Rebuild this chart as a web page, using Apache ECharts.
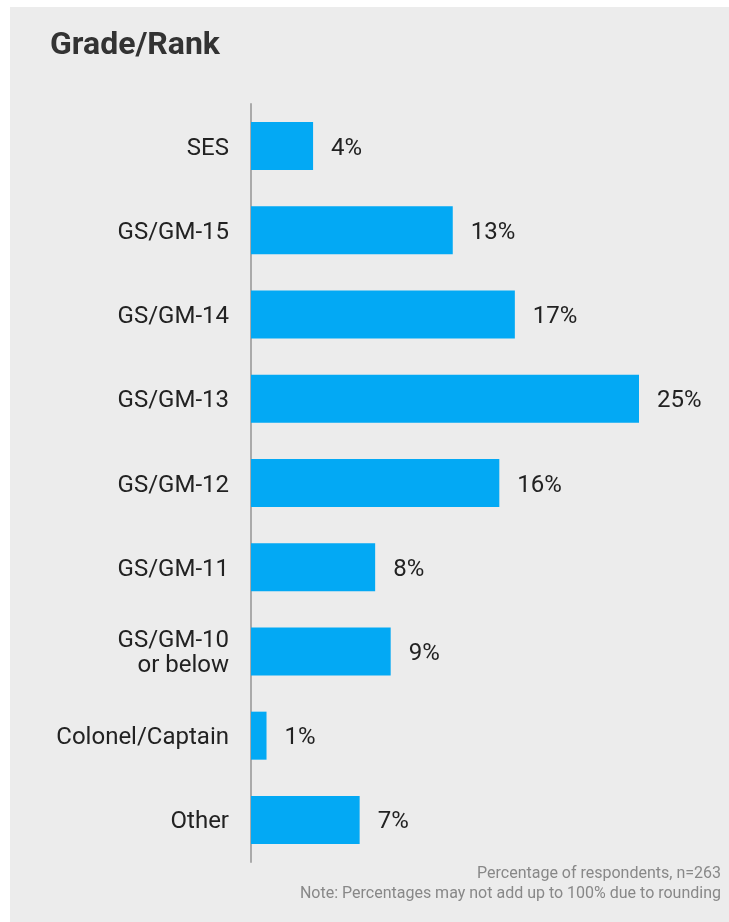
<!DOCTYPE html>
<html>
<head>
<meta charset="utf-8">
<script src="https://cdn.jsdelivr.net/npm/echarts@6/dist/echarts.min.js"></script>
<style>
  html, body { margin: 0; padding: 0; background: #ffffff; }
  #chart { width: 729px; height: 922px; }
</style>
</head>
<body>
<div id="chart"></div>
<script>
// Survey respondents by grade / rank (percent)
const categories = [
  'SES', 'GS/GM-15', 'GS/GM-14', 'GS/GM-13', 'GS/GM-12',
  'GS/GM-11', 'GS/GM-10\nor below', 'Colonel/Captain', 'Other'
];
const percents = [4, 13, 17, 25, 16, 8, 9, 1, 7];
const titleText = 'Grade/Rank';
const noteLines = [
  'Percentage of respondents, n=263',
  'Note: Percentages may not add up to 100% due to rounding'
];

const chart = echarts.init(document.getElementById('chart'), null, { renderer: 'canvas' });
const FONT = 'Roboto, "Noto Sans", sans-serif';

chart.setOption({
  backgroundColor: '#ffffff',
  animation: false,
  graphic: [
    { type: 'rect', left: 10, top: 7, z: -10,
      shape: { width: 719, height: 915 }, style: { fill: '#ececec' } },
    { type: 'text', x: 50, y: 30,
      style: { text: titleText, font: 'bold 32px ' + FONT, fill: '#333333' } },
    { type: 'text', x: 721, y: 866,
      style: { text: noteLines[0], font: '16px ' + FONT, fill: '#888888', align: 'right' } },
    { type: 'text', x: 721, y: 886,
      style: { text: noteLines[1], font: '16px ' + FONT, fill: '#888888', align: 'right' } }
  ],
  grid: { left: 251, top: 104, width: 465.6, height: 758, containLabel: false },
  xAxis: {
    type: 'value', min: 0, max: 30, show: false
  },
  yAxis: {
    type: 'category', data: categories, inverse: true,
    axisLine: { show: true, lineStyle: { color: '#aaaaaa', width: 2 } },
    axisTick: { show: false },
    axisLabel: {
      color: '#222222', fontSize: 24, fontFamily: FONT, margin: 22, align: 'right',
      formatter: v => v.split('\n').map(s => '{t|' + s + '}').join('\n'),
      rich: { t: { fontSize: 24, fontFamily: FONT, color: '#222222',
                   lineHeight: 25, padding: [5, 0, 0, 0], align: 'right' } }
    }
  },
  series: [{
    type: 'bar', data: percents, barWidth: 48,
    itemStyle: { color: '#03a9f4' },
    label: { show: true, position: 'right', distance: 18, formatter: '{c}%',
             color: '#222222', fontSize: 24, fontFamily: FONT, offset: [0, 2.5] }
  }]
});
</script>
</body>
</html>
